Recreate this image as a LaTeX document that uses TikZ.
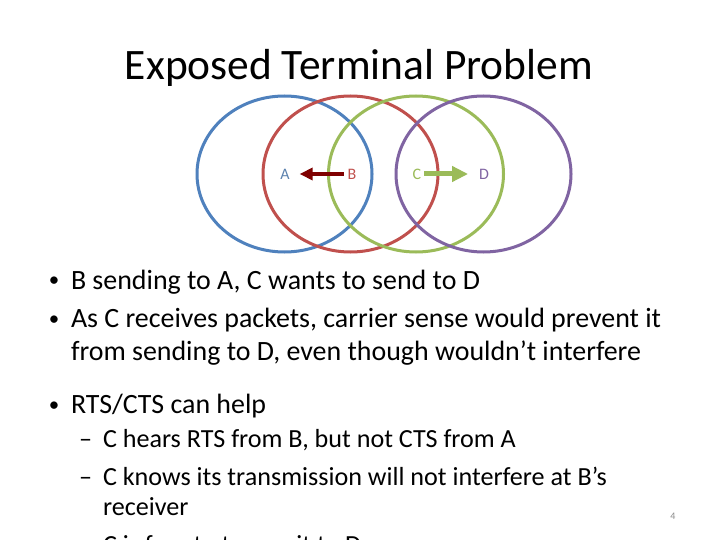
\documentclass[tikz,border=0pt]{standalone}
\usepackage{fontspec}
\setmainfont{Carlito}
\usetikzlibrary{arrows.meta}
\definecolor{cblue}{HTML}{4F81BD}
\definecolor{cred}{HTML}{C0504D}
\definecolor{cgreen}{HTML}{9BBB59}
\definecolor{cpurple}{HTML}{8064A2}
\definecolor{darkred}{HTML}{7F0000}
\definecolor{pagegray}{HTML}{8C8C8C}
\newlength\tmplen
\settowidth\tmplen{\fontsize{10bp}{12bp}\selectfont Exposed Terminal Problem}
\pgfmathsetmacro\titlesize{10*468*1.00375/\tmplen}
\settowidth\tmplen{\fontsize{10bp}{12bp}\selectfont As C receives packets, carrier sense would prevent it}
\pgfmathsetmacro\bodysize{10*590*1.00375/\tmplen}
\settowidth\tmplen{\fontsize{10bp}{12bp}\selectfont C knows its transmission will not interfere at B’s}
\pgfmathsetmacro\subsize{10*504*1.00375/\tmplen}
\pgfmathsetmacro\bulsize{0.75*\bodysize}
\newcommand{\titlefont}{\fontsize{\titlesize bp}{\titlesize bp}\selectfont}
\newcommand{\bodyfont}{\fontsize{\bodysize bp}{\bodysize bp}\selectfont}
\newcommand{\subfont}{\fontsize{\subsize bp}{\subsize bp}\selectfont}
\newcommand{\bulfont}{\fontsize{\bulsize bp}{\bulsize bp}\selectfont}
\begin{document}
\begin{tikzpicture}[x=1bp,y=-1bp,
  txt/.style={anchor=base west, inner sep=0pt, outer sep=0pt},
  bul/.style={anchor=base, inner sep=0pt, outer sep=0pt},
  ring/.style={line width=3bp},
  lbl/.style={inner sep=0pt, outer sep=0pt, font=\fontsize{16bp}{16bp}\selectfont}]
\useasboundingbox (0,0) rectangle (720,540);
\clip (0,0) rectangle (720,540);
\fill[white] (0,0) rectangle (720,540);

\node[anchor=base, inner sep=0pt] (title) at (359,80) {\titlefont Exposed Terminal Problem};

% range circles
\draw[ring, cblue]   (284.5,174) ellipse [x radius=87.5bp, y radius=78bp];
\draw[ring, cred]    (350.5,174) ellipse [x radius=87.5bp, y radius=78bp];
\draw[ring, cgreen]  (416,174)   ellipse [x radius=87.5bp, y radius=78bp];
\draw[ring, cpurple] (483.5,174) ellipse [x radius=87.5bp, y radius=78bp];

% stations
\node[lbl, text=cblue!75!gray]   (A) at (285,174) {A};
\node[lbl, text=cred]    (B) at (352,174) {B};
\node[lbl, text=cgreen]  (C) at (417,174) {C};
\node[lbl, text=cpurple] (D) at (484,174) {D};

\draw[darkred, line width=4bp, -{Triangle[length=13bp,width=12bp]},
      shorten <=4bp, shorten >=10bp] (B) -- (A);
\draw[cgreen, line width=5bp, -{Triangle[length=16bp,width=15bp]},
      shorten <=3bp, shorten >=11bp] (C) -- (D);

% bullets
\node[bul] (b1) at (54,287) {\bulfont •};
\node[txt] (t1) at (71,289) {\bodyfont B sending to A, C wants to send to D};
\node[bul] (b2) at (54,325) {\bulfont •};
\node[txt] (t2) at (71,327) {\bodyfont As C receives packets, carrier sense would prevent it};
\node[txt] (t3) at (71,360) {\bodyfont from sending to D, even though wouldn’t interfere};
\node[bul] (b3) at (54,411) {\bulfont •};
\node[txt] (t4) at (71,413) {\bodyfont RTS/CTS can help};

\node[txt] (d1) at (79,447) {\subfont –};
\node[txt] (s1) at (103,447) {\subfont C hears RTS from B, but not CTS from A};
\node[txt] (d2) at (79,485) {\subfont –};
\node[txt] (s2) at (103,485) {\subfont C knows its transmission will not interfere at B’s};
\node[txt] (s3) at (103,515) {\subfont receiver};
\node[txt] (d3) at (79,553) {\subfont –};
\node[txt] (s4) at (103,553) {\subfont C is free to transmit to D};

\node[anchor=base, inner sep=0pt, text=pagegray] (pg) at (673,519) {\fontsize{10bp}{10bp}\selectfont 4};
\end{tikzpicture}
\end{document}
